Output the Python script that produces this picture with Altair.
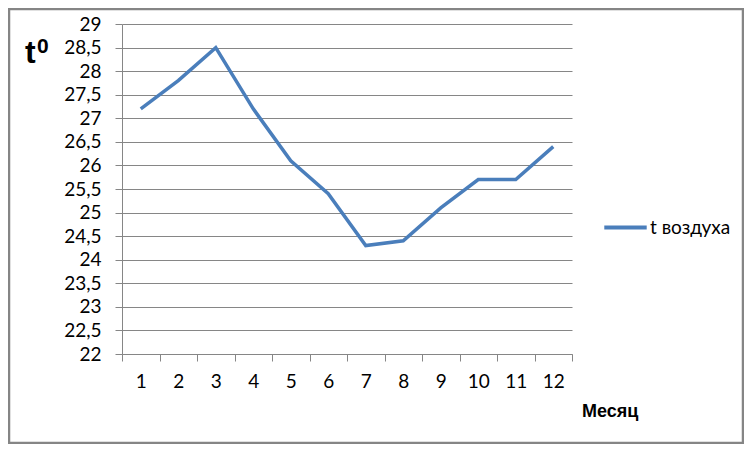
import altair as alt
import pandas as pd

months = [1, 2, 3, 4, 5, 6, 7, 8, 9, 10, 11, 12]
temps = [27.2, 27.8, 28.5, 27.2, 26.1, 25.4, 24.3, 24.4, 25.1, 25.7, 25.7, 26.4]
series_name = "t воздуха"
y_ticks = [22, 22.5, 23, 23.5, 24, 24.5, 25, 25.5, 26, 26.5, 27, 27.5, 28, 28.5, 29]

df = pd.DataFrame({"month": months, "temp": temps, "series": [series_name] * len(months)})

FONT = "Lato"
GRID = "#868686"
LINE = "#4a7ebb"
FS = 19

W, H = 450, 330
PL, PT, PR, PB = 114, 16, 172, 90

line = alt.Chart(df).mark_line(strokeWidth=3.5, strokeJoin="miter").encode(
    x=alt.X(
        "month:O",
        scale=alt.Scale(type="band", paddingInner=0, paddingOuter=0),
        axis=alt.Axis(
            title=None,
            labelAngle=0,
            tickBand="extent",
            grid=False,
            domainColor=GRID,
            tickColor=GRID,
            tickSize=7,
            labelPadding=11,
            labelFont=FONT,
            labelFontSize=FS,
            labelColor="#000000",
        ),
    ),
    y=alt.Y(
        "temp:Q",
        scale=alt.Scale(domain=[22, 29], nice=False, zero=False),
        axis=alt.Axis(
            title=None,
            values=y_ticks,
            labelExpr="replace(format(datum.value, '~g'), '.', ',')",
            gridColor=GRID,
            domainColor=GRID,
            tickColor=GRID,
            tickSize=7,
            labelPadding=14,
            labelFont=FONT,
            labelFontSize=FS,
            labelColor="#000000",
        ),
    ),
    color=alt.Color(
        "series:N",
        scale=alt.Scale(range=[LINE]),
        legend=alt.Legend(
            title=None,
            orient="none",
            legendX=480,
            legendY=180,
            symbolType="stroke",
            symbolSize=1800,
            symbolStrokeWidth=4,
            labelFont=FONT,
            labelFontSize=FS,
            labelColor="#000000",
            labelOffset=1,
        ),
    ),
)

t_main = alt.Chart(pd.DataFrame({"s": ["t"]})).mark_text(
    font="Liberation Sans", fontSize=32, fontWeight="bold", align="left", baseline="alphabetic", color="#000000"
).encode(text="s:N", x=alt.value(25 - PL - 8), y=alt.value(63 - PT - 8))

t_sup = alt.Chart(pd.DataFrame({"s": ["0"]})).mark_text(
    font="Liberation Sans", fontSize=21, fontWeight="bold", align="left", baseline="alphabetic", color="#000000"
).encode(text="s:N", x=alt.value(37 - PL - 8), y=alt.value(53 - PT - 8))

x_title = alt.Chart(pd.DataFrame({"s": ["Месяц"]})).mark_text(
    font="Liberation Sans", fontSize=18, fontWeight="bold", align="left", baseline="alphabetic", color="#000000"
).encode(text="s:N", x=alt.value(582 - PL - 8), y=alt.value(417 - PT - 8))

frame = alt.Chart(pd.DataFrame({"a": [0]})).mark_rect(
    fill=None, stroke="#858585", strokeWidth=2.5
).encode(
    x=alt.value(-PL + 1), x2=alt.value(W + PR - 1),
    y=alt.value(-PT + 1), y2=alt.value(H + PB - 1),
)

chart = alt.layer(frame, line, t_main, t_sup, x_title).properties(
    width=W, height=H,
    autosize=alt.AutoSizeParams(type="none"),
    padding={"left": PL, "top": PT, "right": PR, "bottom": PB},
    background="#ffffff",
).configure_view(stroke=None)

chart.save("out.html", embed_options={"renderer": "svg", "actions": False})
